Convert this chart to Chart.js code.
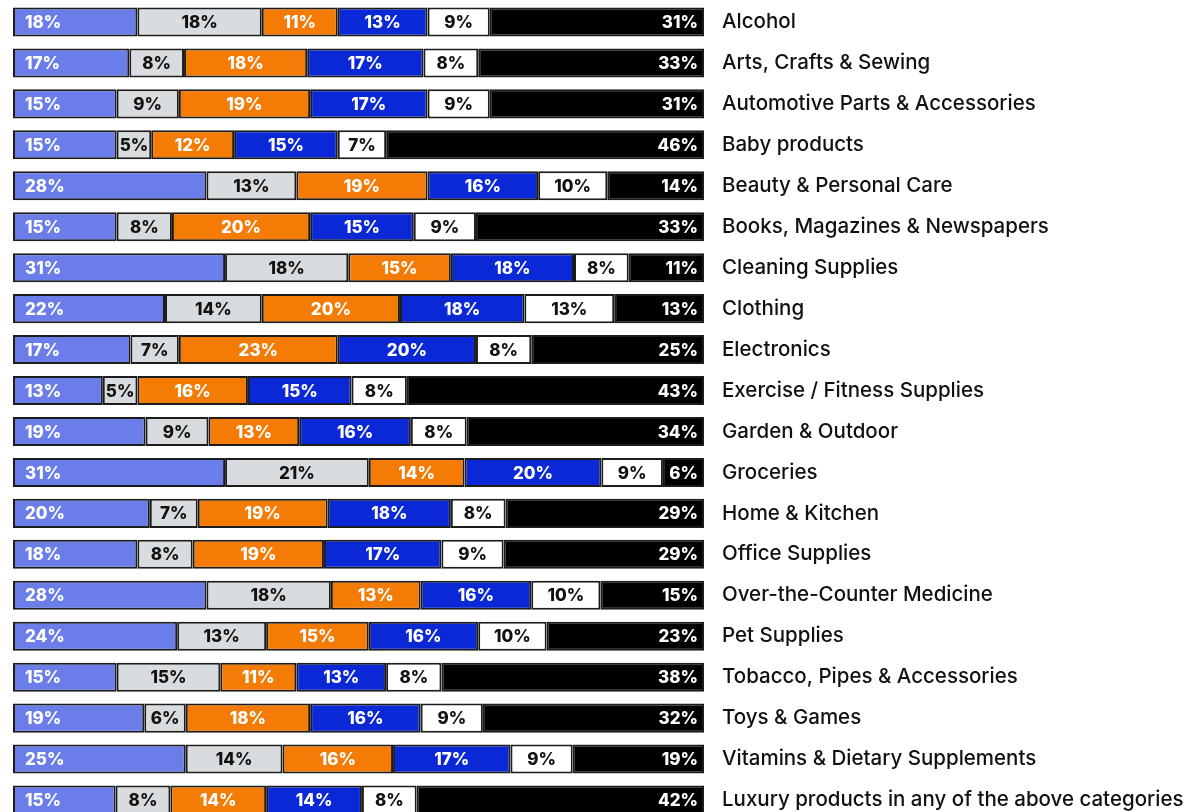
<!DOCTYPE html>
<html>
<head>
<meta charset="utf-8">
<script src="https://cdn.jsdelivr.net/npm/chart.js@4"></script>
<style>
	html, body { margin: 0; padding: 0; background: #fff; overflow: hidden; }
	#wrap { width: 1190px; height: 822px; }
	canvas { display: block; }
</style>
</head>
<body>
<div id="wrap"><canvas id="grafico" width="1190" height="822"></canvas></div>
<script>
const categorias = [
	'Alcohol', 'Arts, Crafts & Sewing', 'Automotive Parts & Accessories', 'Baby products',
	'Beauty & Personal Care', 'Books, Magazines & Newspapers', 'Cleaning Supplies', 'Clothing',
	'Electronics', 'Exercise / Fitness Supplies', 'Garden & Outdoor', 'Groceries',
	'Home & Kitchen', 'Office Supplies', 'Over-the-Counter Medicine', 'Pet Supplies',
	'Tobacco, Pipes & Accessories', 'Toys & Games', 'Vitamins & Dietary Supplements',
	'Luxury products in any of the above categories'
];

const serie1 = [18, 17, 15, 15, 28, 15, 31, 22, 17, 13, 19, 31, 20, 18, 28, 24, 15, 19, 25, 15];
const serie2 = [18, 8, 9, 5, 13, 8, 18, 14, 7, 5, 9, 21, 7, 8, 18, 13, 15, 6, 14, 8];
const serie3 = [11, 18, 19, 12, 19, 20, 15, 20, 23, 16, 13, 14, 19, 19, 13, 15, 11, 18, 16, 14];
const serie4 = [13, 17, 17, 15, 16, 15, 18, 18, 20, 15, 16, 20, 18, 17, 16, 16, 13, 16, 17, 14];
const serie5 = [9, 8, 9, 7, 10, 9, 8, 13, 8, 8, 8, 9, 8, 9, 10, 10, 8, 9, 9, 8];
const serie6 = [31, 33, 31, 46, 14, 33, 11, 13, 25, 43, 34, 6, 29, 29, 15, 23, 38, 32, 19, 42];

const series = [serie1, serie2, serie3, serie4, serie5, serie6];
const cores = ['#6a7de8', '#d9dcdf', '#f37b06', '#0a28d6', '#ffffff', '#000000'];
const coresTexto = ['#fff', '#111', '#fff', '#fff', '#111', '#fff'];

// total de cada linha (arredondamentos fazem alguns somarem 101)
const totais = categorias.map((c, i) => series.reduce((s, arr) => s + arr[i], 0));

const rotulos = {
	id: 'rotulos',
	afterDatasetsDraw(chart) {
		const ctx = chart.ctx;
		ctx.save();
		ctx.font = '800 17px Inter';
		ctx.textBaseline = 'middle';
		chart.data.datasets.forEach((ds, di) => {
			const meta = chart.getDatasetMeta(di);
			meta.data.forEach((bar, i) => {
				const texto = series[di][i] + '%';
				ctx.fillStyle = coresTexto[di];
				let x;
				if (di === 0) {
					ctx.textAlign = 'left';
					x = bar.base + 12;
				} else if (di === 5) {
					ctx.textAlign = 'right';
					x = bar.x - 6;
				} else {
					ctx.textAlign = 'center';
					x = (bar.base + bar.x) / 2;
				}
				ctx.fillText(texto, x, bar.y + 1);
			});
		});
		ctx.restore();
	}
};

const ctx = document.getElementById('grafico').getContext('2d');
new Chart(ctx, {
	type: 'bar',
	data: {
		labels: categorias,
		datasets: series.map((arr, di) => ({
			label: 'Serie ' + (di + 1),
			data: arr.map((v, i) => v / totais[i] * 100),
			backgroundColor: cores[di],
			borderColor: '#1c1c1c',
			borderWidth: 2,
			borderSkipped: false,
			barPercentage: 0.71,
			categoryPercentage: 1
		}))
	},
	options: {
		indexAxis: 'y',
		responsive: false,
		animation: false,
		layout: { padding: { left: 13, top: 1.5, bottom: 1.5, right: 0 } },
		plugins: {
			legend: { display: false },
			tooltip: { enabled: false }
		},
		scales: {
			x: {
				stacked: true,
				min: 0,
				max: 100,
				display: false
			},
			y: {
				stacked: true,
				position: 'right',
				grid: { display: false },
				border: { display: false },
				ticks: {
					color: '#111',
					padding: 10,
					font: { family: 'Inter', size: 20.5, weight: '500' }
				},
				afterFit(scale) {
					scale.width = 486;
					scale.paddingTop = 0;
					scale.paddingBottom = 0;
				}
			}
		}
	},
	plugins: [rotulos]
});
</script>
</body>
</html>
